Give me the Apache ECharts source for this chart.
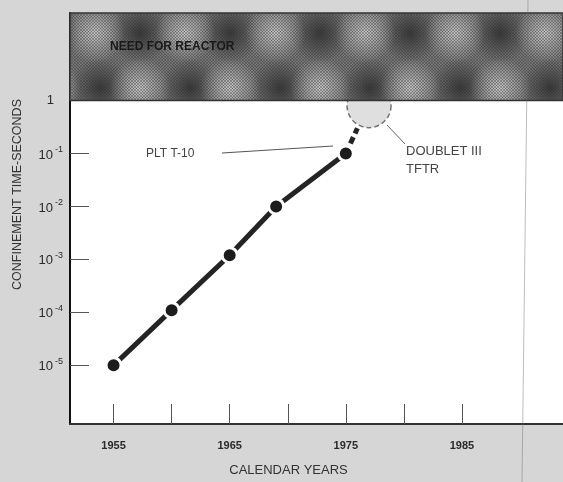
<!DOCTYPE html>
<html><head><meta charset="utf-8">
<script src="https://cdn.jsdelivr.net/npm/echarts@6/dist/echarts.min.js"></script>
<style>html,body{margin:0;padding:0;background:#d6d6d6}#c{width:563px;height:482px}</style>
</head><body><div id="c"></div>
<script>
// ---- data ----
const years = [1955, 1960, 1965, 1969, 1975];
const confinement = [1e-5, 1.1e-4, 1.2e-3, 1.0e-2, 0.1];
const projYears = [1975, 1976];
const projValues = [0.1, 0.3];
const goalYears = [1977];
const goalValues = [0.8];
const xTicks = [1955, 1960, 1965, 1970, 1975, 1980, 1985];
const xLabels = [1955, 1965, 1975, 1985];
const yTickExps = [0, -1, -2, -3, -4, -5];
const reactorThreshold = 1;
const xMin = 1951.25, xMax = 1993.7;
const yMin = 7.8e-7, yMax = 45;

const FONT = 'Liberation Sans';

function makeBand() {
  const W = 90, H = 108;
  const c = document.createElement('canvas');
  c.width = W; c.height = H;
  const g = c.getContext('2d');
  g.fillStyle = '#777'; g.fillRect(0, 0, W, H);
  const blobs = [[50, 33, 'd'], [5, 33, 'l'], [10, 88, 'd'], [50, 88, 'l']];
  for (const [bx, by, t] of blobs) {
    for (const dx of [-W, 0, W]) for (const dy of [-H, 0, H]) {
      const cx = bx + dx, cy = by + dy;
      const grd = g.createRadialGradient(cx, cy, 0, cx, cy, 30);
      if (t === 'd') { grd.addColorStop(0, 'rgba(45,45,45,0.85)'); grd.addColorStop(1, 'rgba(45,45,45,0)'); }
      else { grd.addColorStop(0, 'rgba(205,205,205,0.9)'); grd.addColorStop(1, 'rgba(205,205,205,0)'); }
      g.fillStyle = grd; g.fillRect(0, 0, W, H);
    }
  }
  g.strokeStyle = 'rgba(50,50,50,0.35)'; g.lineWidth = 1;
  for (let k = -H; k < W + H; k += 3) {
    g.beginPath(); g.moveTo(k, 0); g.lineTo(k + H, H); g.stroke();
    g.beginPath(); g.moveTo(k, H); g.lineTo(k + H, 0); g.stroke();
  }
  return c;
}

const chart = echarts.init(document.getElementById('c'), null, { renderer: 'canvas' });
chart.setOption({
  backgroundColor: '#d6d6d6',
  animation: false,
  grid: { left: 70, right: 0, top: 13, bottom: 56, show: true, backgroundColor: '#ffffff', borderWidth: 0 },
  xAxis: {
    type: 'value', min: xMin, max: xMax,
    splitLine: { show: false },
    axisLine: { show: true, lineStyle: { color: '#333', width: 2 } },
    axisTick: { show: true, inside: true, length: 20, customValues: xTicks, lineStyle: { color: '#555', width: 1 } },
    axisLabel: { customValues: xLabels, formatter: v => String(v), color: '#2a2a2a', fontSize: 11, fontWeight: 'bold', fontFamily: FONT, margin: 16 },
    name: 'CALENDAR YEARS', nameLocation: 'middle', nameGap: 40,
    nameTextStyle: { color: '#333', fontSize: 13, fontFamily: FONT, padding: [0, 56, 0, 0] }
  },
  yAxis: {
    type: 'log', logBase: 10, min: yMin, max: yMax,
    splitLine: { show: false }, minorTick: { show: false },
    axisLine: { show: true, lineStyle: { color: '#111', width: 2 } },
    axisTick: { show: true, inside: true, length: 19, customValues: yTickExps.map(e => Math.pow(10, e)), lineStyle: { color: '#555', width: 1 } },
    axisLabel: {
      customValues: yTickExps.map(e => Math.pow(10, e)), margin: 7,
      formatter: function (v) {
        const e = Math.round(Math.log10(v));
        return e === 0 ? '{o|1}' : '{b|10}{s|' + e + '}';
      },
      rich: {
        o: { fontSize: 13, color: '#2a2a2a', fontFamily: FONT, padding: [0, 9, 0, 0] },
        b: { fontSize: 13, color: '#2a2a2a', fontFamily: FONT, verticalAlign: 'bottom' },
        s: { fontSize: 9, color: '#2a2a2a', fontFamily: FONT, verticalAlign: 'bottom', padding: [0, 0, 7, 2] }
      }
    },
    name: 'CONFINEMENT TIME-SECONDS', nameLocation: 'middle', nameGap: 46, nameRotate: 90,
    nameTextStyle: { color: '#333', fontSize: 12.5, fontFamily: FONT, padding: [0, 0, 0, 48] }
  },
  series: [
    {
      type: 'scatter', z: 2,
      data: goalYears.map((y, i) => [y, goalValues[i]]),
      symbol: 'circle', symbolSize: 44,
      itemStyle: { color: '#d7d7d7', borderColor: '#555', borderWidth: 1.5, borderType: [5, 3] }
    },
    {
      type: 'line', z: 2,
      data: projYears.map((y, i) => [y, projValues[i]]),
      symbol: 'none',
      lineStyle: { color: '#242424', width: 5, type: [7, 4] }
    },
    {
      type: 'line', z: 3,
      data: years.map((y, i) => [y, confinement[i]]),
      symbol: 'circle', symbolSize: 15,
      itemStyle: { color: '#1c1c1c', borderColor: '#ffffff', borderWidth: 3 },
      lineStyle: { color: '#242424', width: 5 },
      markArea: {
        silent: true, z: 10,
        itemStyle: { color: { image: makeBand(), repeat: 'repeat' }, borderColor: '#333', borderWidth: 1.5 },
        data: [[{ xAxis: xMin, yAxis: reactorThreshold }, { xAxis: xMax, yAxis: yMax }]]
      }
    }
  ],
  graphic: [
    { type: 'text', z: 20, left: 110, top: 41, style: { text: 'NEED FOR REACTOR', fill: '#1a1a1a', font: 'bold 12px "Liberation Sans"' } },
    { type: 'text', z: 20, left: 146, top: 148, style: { text: 'PLT T-10', fill: '#444', font: '12px "Liberation Sans"' } },
    { type: 'line', z: 20, shape: { x1: 222, y1: 153, x2: 333, y2: 146 }, style: { stroke: '#555', lineWidth: 1 } },
    { type: 'line', z: 20, shape: { x1: 387, y1: 125, x2: 405, y2: 144 }, style: { stroke: '#666', lineWidth: 1 } },
    { type: 'text', z: 20, left: 406, top: 145, style: { text: 'DOUBLET III', fill: '#444', font: '13px "Liberation Sans"' } },
    { type: 'text', z: 20, left: 406, top: 163, style: { text: 'TFTR', fill: '#444', font: '13px "Liberation Sans"' } },
    { type: 'line', z: 20, shape: { x1: 528, y1: 0, x2: 522, y2: 482 }, style: { stroke: 'rgba(110,110,110,0.45)', lineWidth: 1 } }
  ]
});
</script></body></html>
